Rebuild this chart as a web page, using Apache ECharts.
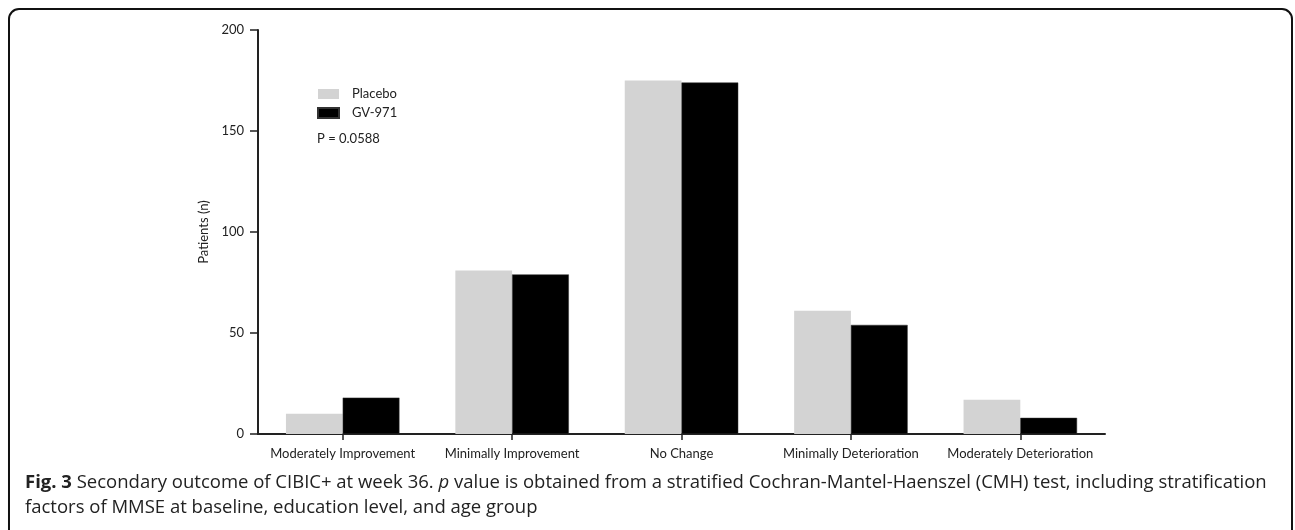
<!DOCTYPE html>
<html>
<head>
<meta charset="utf-8">
<script src="https://cdn.jsdelivr.net/npm/echarts@6/dist/echarts.min.js"></script>
<style>
  html, body { margin: 0; padding: 0; background: #fff; }
  #chart { width: 1295px; height: 530px; }
</style>
</head>
<body>
<div id="chart"></div>
<script>
// CIBIC+ outcome categories at week 36
const categories = [
  'Moderately Improvement',
  'Minimally Improvement',
  'No Change',
  'Minimally Deterioration',
  'Moderately Deterioration'
];
const placebo = [10, 81, 175, 61, 17];
const gv971 = [18, 79, 174, 54, 8];
const yTicks = [0, 50, 100, 150, 200];
const pValueText = 'P = 0.0588';

const axisFont = 'Lato, "Open Sans", sans-serif';
const captionFont = '"Open Sans", "Noto Sans", sans-serif';

const chart = echarts.init(document.getElementById('chart'));

chart.setOption({
  backgroundColor: '#ffffff',
  animation: false,
  grid: { left: 258, right: 190, top: 30, bottom: 96, containLabel: false },
  legend: {
    orient: 'vertical',
    left: 312,
    top: 82,
    itemWidth: 21,
    itemHeight: 10,
    itemGap: 5,
    icon: 'rect',
    textStyle: { fontFamily: axisFont, fontSize: 13, lineHeight: 14, color: '#222', padding: [0, 0, 0, 8] },
    data: ['Placebo', 'GV-971']
  },
  xAxis: {
    type: 'category',
    data: categories,
    boundaryGap: true,
    axisLine: { lineStyle: { color: '#222', width: 2 } },
    axisTick: { show: true, alignWithLabel: true, length: 6, lineStyle: { color: '#222', width: 1.5 } },
    axisLabel: { fontFamily: axisFont, fontSize: 13, color: '#222', margin: 13, interval: 0 }
  },
  yAxis: {
    type: 'value',
    min: yTicks[0],
    max: yTicks[yTicks.length - 1],
    interval: 50,
    name: 'Patients (n)',
    nameLocation: 'middle',
    nameGap: 48,
    nameRotate: 90,
    nameTextStyle: { fontFamily: axisFont, fontSize: 13, color: '#222' },
    axisLine: { show: true, lineStyle: { color: '#222', width: 2 } },
    axisTick: { show: true, length: 8, lineStyle: { color: '#222', width: 1.5 } },
    axisLabel: { fontFamily: axisFont, fontSize: 13, color: '#222', margin: 14 },
    splitLine: { show: false }
  },
  series: [
    {
      name: 'Placebo',
      type: 'bar',
      data: placebo,
      barGap: '0%',
      barCategoryGap: '33%',
      itemStyle: { color: '#d3d3d3' }
    },
    {
      name: 'GV-971',
      type: 'bar',
      data: gv971,
      itemStyle: { color: '#000000', borderColor: '#333', borderWidth: 0.5 }
    }
  ],
  graphic: [
    {
      type: 'rect',
      shape: { x: 9, y: 9, width: 1283, height: 560, r: 10 },
      style: { fill: 'none', stroke: '#111', lineWidth: 2 },
      silent: true
    },
    {
      type: 'text',
      left: 317,
      top: 132,
      style: { text: pValueText, font: '13px ' + axisFont, fill: '#222' }
    },
    {
      type: 'text',
      left: 25,
      top: 473,
      style: {
        text: '{b|Fig. 3} Secondary outcome of CIBIC+ at week 36. {i|p} value is obtained from a stratified Cochran-Mantel-Haenszel (CMH) test, including stratification',
        font: '18.5px ' + captionFont,
        fill: '#222',
        rich: {
          b: { fontWeight: 'bold', fontSize: 18.5, fontFamily: captionFont, fill: '#222' },
          i: { fontStyle: 'italic', fontSize: 18.5, fontFamily: captionFont, fill: '#222' }
        }
      }
    },
    {
      type: 'text',
      left: 25,
      top: 498,
      style: {
        text: 'factors of MMSE at baseline, education level, and age group',
        font: '18.5px ' + captionFont,
        fill: '#222'
      }
    }
  ]
});
</script>
</body>
</html>
